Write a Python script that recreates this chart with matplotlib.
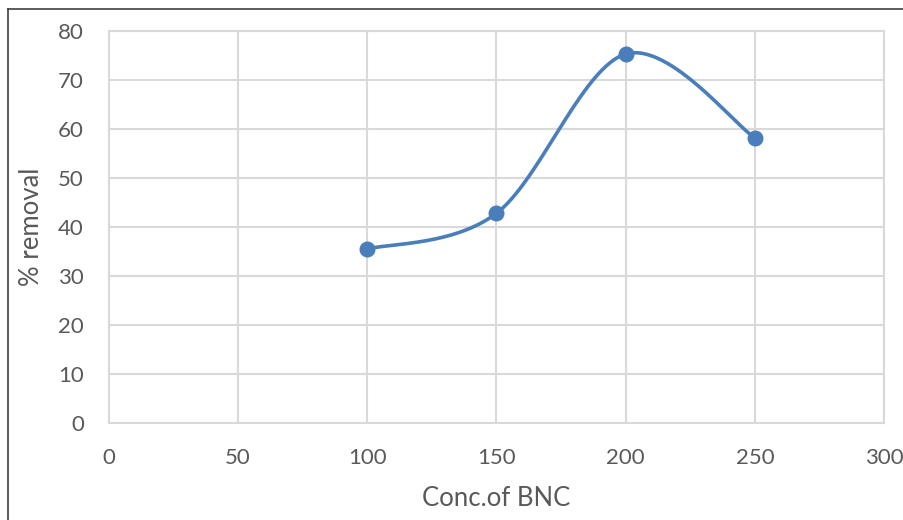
import numpy as np
import matplotlib.pyplot as plt
from matplotlib.lines import Line2D

plt.rcParams['font.family'] = ['Lato', 'DejaVu Sans']

# data
conc = [100, 150, 200, 250]
removal = [35.5, 42.8, 75.3, 58.2]

x_ticks = [0, 50, 100, 150, 200, 250, 300]
y_ticks = [0, 10, 20, 30, 40, 50, 60, 70, 80]

blue = '#4a7ebb'
grey = '#595959'


def smooth(xs, ys, n=60):
    # Excel-like smoothed line (Catmull-Rom as cubic bezier)
    xs = np.asarray(xs, float)
    ys = np.asarray(ys, float)
    px = np.concatenate([[xs[0]], xs, [xs[-1]]])
    py = np.concatenate([[ys[0]], ys, [ys[-1]]])
    ox, oy = [], []
    t = np.linspace(0, 1, n)
    for i in range(1, len(px) - 2):
        p0 = np.array([px[i], py[i]])
        p3 = np.array([px[i + 1], py[i + 1]])
        c1 = p0 + (np.array([px[i + 1], py[i + 1]]) - np.array([px[i - 1], py[i - 1]])) / 6
        c2 = p3 - (np.array([px[i + 2], py[i + 2]]) - p0) / 6
        b = ((1 - t) ** 3)[:, None] * p0 + (3 * (1 - t) ** 2 * t)[:, None] * c1 \
            + (3 * (1 - t) * t ** 2)[:, None] * c2 + (t ** 3)[:, None] * p3
        ox.extend(b[:, 0])
        oy.extend(b[:, 1])
    return ox, oy


fig = plt.figure(figsize=(9.04, 5.20), dpi=100)
ax = fig.add_axes([109 / 904, 97 / 520, 775 / 904, 392 / 520])

sx, sy = smooth(conc, removal)
ax.plot(sx, sy, color=blue, lw=2.6, solid_capstyle='round', zorder=3)
ax.plot(conc, removal, 'o', color=blue, ms=10.5, zorder=4)

ax.set_xlim(0, 300)
ax.set_ylim(0, 80)
ax.set_xticks(x_ticks)
ax.set_yticks(y_ticks)
ax.grid(True, color='#d9d9d9', lw=1.5)
ax.set_axisbelow(True)
for s in ax.spines.values():
    s.set_color('#d9d9d9')
    s.set_linewidth(1.5)
ax.tick_params(axis='x', length=0, labelsize=16, colors=grey, pad=18)
ax.tick_params(axis='y', length=0, labelsize=16, colors=grey, pad=18)

ax.set_xlabel('Conc.of BNC', fontsize=18.5, color=grey, labelpad=13)
ax.set_ylabel('% removal', fontsize=18.5, color=grey, labelpad=10)

# outer chart border
fig.add_artist(Line2D([8 / 904, 8 / 904], [0, 1 - 9 / 520], transform=fig.transFigure, color='#404040', lw=1.2))
fig.add_artist(Line2D([8 / 904, 1], [1 - 9 / 520, 1 - 9 / 520], transform=fig.transFigure, color='#404040', lw=1.2))

fig.savefig('out.png', dpi=100)
